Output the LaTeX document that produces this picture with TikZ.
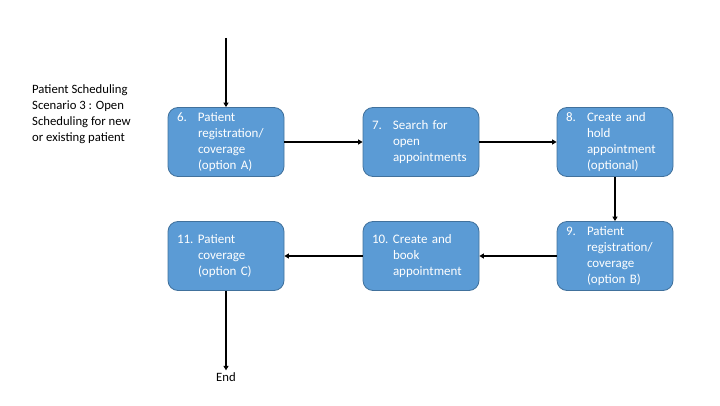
\documentclass[tikz,border=0pt]{standalone}
\usepackage{fontspec}
\setmainfont{Carlito}
\usepackage{tikz}
\usetikzlibrary{arrows.meta, positioning}
\definecolor{myblue}{RGB}{91,155,213}
\definecolor{myborder}{RGB}{65,113,156}
\tikzstyle{stepbox}=[draw=myborder, fill=myblue, rounded corners=10pt,
text=white, text width=98pt, align=left, inner xsep=9pt, inner ysep=0pt,
minimum height=69pt, font=\fontsize{13}{16}\selectfont, line width=0.8pt]
\tikzstyle{flow}=[line width=2pt, -{Triangle[length=4.5pt,width=5pt]}]
\newcommand{\steptext}[2]{\begin{tabular}{@{}p{21pt}@{}l@{}}#1 & #2\end{tabular}}

\begin{document}
\begin{tikzpicture}
\useasboundingbox (0pt, 0pt) rectangle (720pt, 405pt);
\draw (32pt, 291pt) node [anchor=west, align=left, inner sep=0pt,
  font=\fontsize{12.7}{16}\selectfont] (title) {Patient Scheduling\\Scenario 3 : Open\\Scheduling for new\\or existing patient};
\coordinate (start) at (226pt, 367pt);
\draw (226pt, 263pt) node [stepbox] (n6) {\steptext{6.}{Patient\\&registration/\\&coverage\\&(option A)}};
\draw (421pt, 263pt) node [stepbox] (n7) {\steptext{7.}{Search for\\&open\\&appointments}};
\draw (615pt, 263pt) node [stepbox] (n8) {\steptext{8.}{Create and\\&hold\\&appointment\\&(optional)}};
\draw (615pt, 149pt) node [stepbox] (n9) {\steptext{9.}{Patient\\&registration/\\&coverage\\&(option B)}};
\draw (421pt, 149pt) node [stepbox] (n10) {\steptext{10.}{Create and\\&book\\&appointment}};
\draw (226pt, 149pt) node [stepbox] (n11) {\steptext{11.}{Patient\\&coverage\\&(option C)}};
\draw (226pt, 28pt) node [anchor=center, inner sep=2pt,
  font=\fontsize{12.7}{16}\selectfont] (end) {End};
\draw [flow] (start) -- (n6);
\draw [flow] (n6) -- (n7);
\draw [flow] (n7) -- (n8);
\draw [flow] (n8) -- (n9);
\draw [flow] (n9) -- (n10);
\draw [flow] (n10) -- (n11);
\draw [flow] (n11) -- (end);
\end{tikzpicture}
\end{document}
